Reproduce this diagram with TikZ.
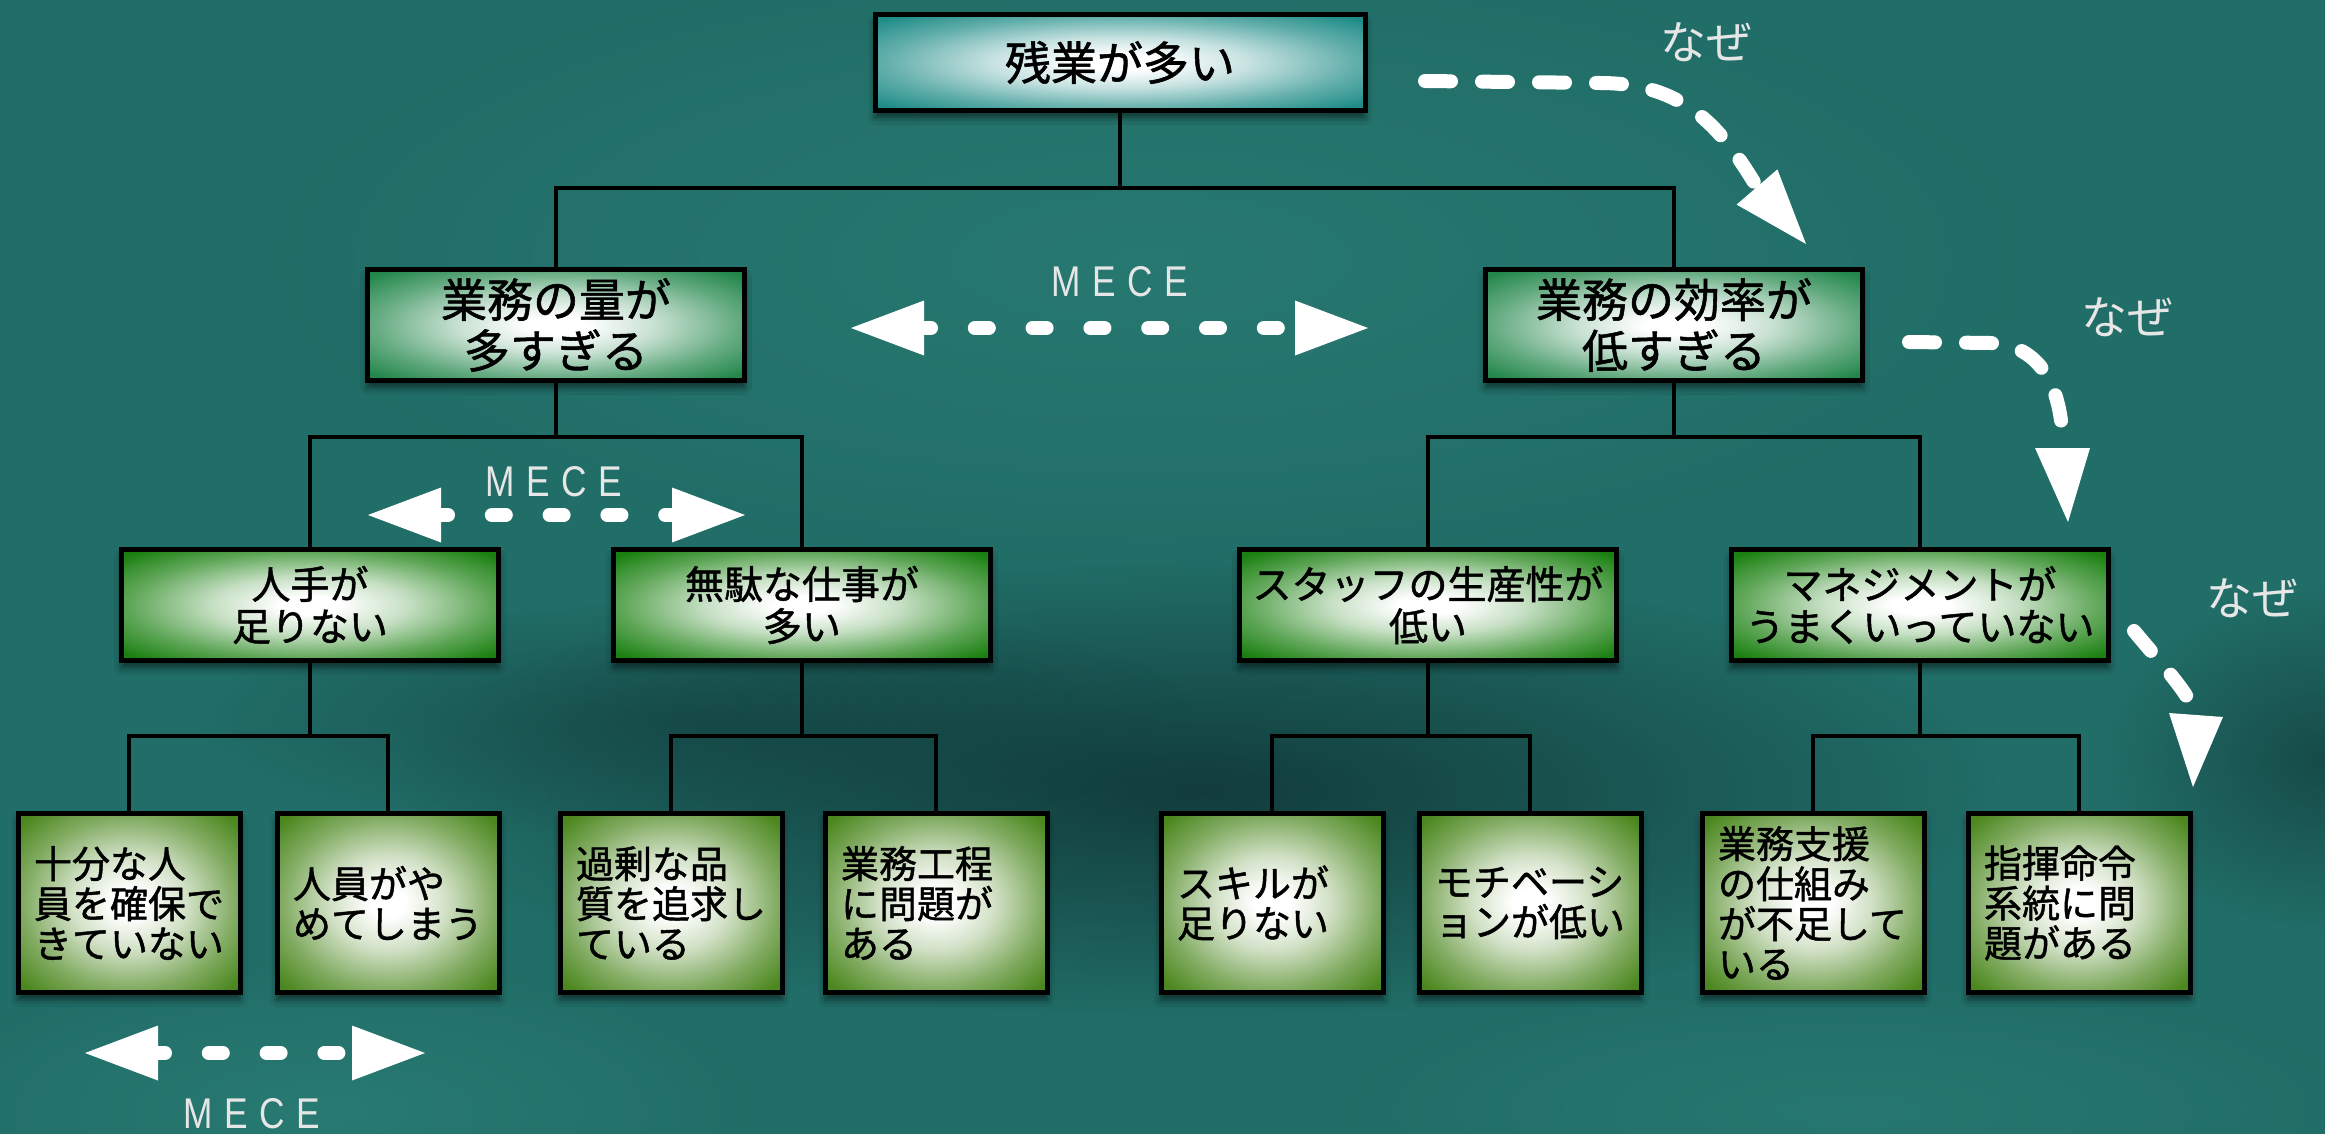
\documentclass[tikz,border=0pt]{standalone}
\usepackage{fontspec}
\setmainfont{Liberation Sans}
\newfontfamily\jp[FakeBold=1.2]{Noto Sans CJK JP}
\newfontfamily\jplight{Noto Sans CJK JP}
\usetikzlibrary{shadows.blur,fadings,calc}

\definecolor{bgbase}{HTML}{216D67}
\definecolor{bgdark}{HTML}{0F3434}
\definecolor{bglight}{HTML}{2B8077}
\definecolor{cT}{HTML}{1F8C87}
\definecolor{cA}{HTML}{23874B}
\definecolor{cB}{HTML}{1A8010}
\definecolor{cC}{HTML}{4B871E}
\definecolor{labelgray}{HTML}{E6E6E6}

\pgfdeclareradialshading{shT}{\pgfpoint{0bp}{0bp}}{color(0bp)=(white); color(4bp)=(white); color(13bp)=(cT!25!white); color(24bp)=(cT!70!white); color(33bp)=(cT); color(50bp)=(cT)}
\pgfdeclareradialshading{shA}{\pgfpoint{0bp}{0bp}}{color(0bp)=(white); color(4bp)=(white); color(13bp)=(cA!25!white); color(24bp)=(cA!70!white); color(33bp)=(cA); color(50bp)=(cA)}
\pgfdeclareradialshading{shB}{\pgfpoint{0bp}{0bp}}{color(0bp)=(white); color(4bp)=(white); color(13bp)=(cB!25!white); color(24bp)=(cB!70!white); color(33bp)=(cB); color(50bp)=(cB)}
\pgfdeclareradialshading{shC}{\pgfpoint{0bp}{0bp}}{color(0bp)=(white); color(4bp)=(white); color(13bp)=(cC!25!white); color(24bp)=(cC!70!white); color(33bp)=(cC); color(50bp)=(cC)}

\tikzfading[name=blobfade, inner color=transparent!0, outer color=transparent!100]

\tikzset{
  box/.style={draw=black, line width=5pt, inner sep=0pt, shade,
    minimum width=377pt, minimum height=111pt,
    blur shadow={shadow xshift=0pt, shadow yshift=-7pt, shadow blur radius=7pt, shadow opacity=55}},
  topbox/.style={box, shading=shT, minimum width=490pt, minimum height=96pt,
    font=\jp\fontsize{46}{51}\selectfont},
  lonebox/.style={box, shading=shA, align=center, font=\jp\fontsize{46}{51}\selectfont},
  ltwobox/.style={box, shading=shB, align=center, font=\jp\fontsize{39}{42}\selectfont},
  lthreebox/.style={box, shading=shC, minimum width=222pt, minimum height=179pt,
    text width=190pt, align=left, font=\jp\fontsize{38}{40}\selectfont},
  link/.style={draw=black, line width=3.5pt},
  dotline/.style={draw=white, line width=14pt, line cap=round, dash pattern=on 14pt off 43.8pt},
  whyline/.style={draw=white, line width=14pt, line cap=round, dash pattern=on 26pt off 31pt},
  headfill/.style={fill=white},
  mecelabel/.style={text=labelgray, font=\fontsize{43}{43}\selectfont, inner sep=0pt},
  whylabel/.style={text=labelgray, font=\jplight\fontsize{46}{46}\selectfont, inner sep=0pt},
}

\newcommand{\mecetext}{\scalebox{0.82}[1]{M\kern14pt E\kern14pt C\kern14pt E}}

\begin{document}
\begin{tikzpicture}[x=1pt,y=-1pt]
\useasboundingbox (0,0) rectangle (2325,1134);
% background
\fill[bgbase] (0,0) rectangle (2325,1134);
\begin{scope}
\clip (0,0) rectangle (2325,1134);
\fill[bglight, path fading=blobfade, fill opacity=0.6] (1150,260) ellipse (950 and 330);
\fill[bgdark, path fading=blobfade, fill opacity=0.85] (1200,790) ellipse (800 and 230);
\fill[bgdark, path fading=blobfade, fill opacity=0.6] (2325,760) ellipse (220 and 170);
\fill[bgdark, path fading=blobfade, fill opacity=0.5] (700,720) ellipse (500 and 120);
\fill[bglight, path fading=blobfade, fill opacity=0.7] (330,1110) ellipse (450 and 160);
\fill[bglight, path fading=blobfade, fill opacity=0.55] (1850,1110) ellipse (550 and 140);
\end{scope}

\coordinate (busA) at (1120,188);
\coordinate (busB) at (0,437);
\coordinate (busC) at (0,736);

% boxes
\node[topbox] (top) at (1120,62.5) {残業が多い};

\node[lonebox] (qa) at (556,325) {業務の量が\\多すぎる};
\node[lonebox] (qb) at (1674,325) {業務の効率が\\低すぎる};

\node[ltwobox] (ra) at (310,605) {人手が\\足りない};
\node[ltwobox] (rb) at (802,605) {無駄な仕事が\\多い};
\node[ltwobox] (rc) at (1428,605) {スタッフの生産性が\\低い};
\node[ltwobox] (rd) at (1920,605) {マネジメントが\\うまくいっていない};

\node[lthreebox] (s1) at (129,903) {十分な人\\員を確保で\\きていない};
\node[lthreebox] (s2) at (388,903) {人員がや\\めてしまう};
\node[lthreebox] (s3) at (671,903) {過剰な品\\質を追求し\\ている};
\node[lthreebox] (s4) at (936,903) {業務工程\\に問題が\\ある};
\node[lthreebox] (s5) at (1272,903) {スキルが\\足りない};
\node[lthreebox] (s6) at (1530,903) {モチベーシ\\ョンが低い};
\node[lthreebox] (s7) at (1813,903) {業務支援\\の仕組み\\が不足して\\いる};
\node[lthreebox] (s8) at (2079,903) {指揮命令\\系統に問\\題がある};

% tree links
\draw[link] (top.south) -- (top.south |- busA) -| (qa.north);
\draw[link] (top.south |- busA) -| (qb.north);

\draw[link] (qa.south) -- (qa.south |- busB) -| (ra.north);
\draw[link] (qa.south |- busB) -| (rb.north);
\draw[link] (qb.south) -- (qb.south |- busB) -| (rc.north);
\draw[link] (qb.south |- busB) -| (rd.north);

\draw[link] (ra.south) -- (ra.south |- busC) -| (s1.north);
\draw[link] (ra.south |- busC) -| (s2.north);
\draw[link] (rb.south) -- (rb.south |- busC) -| (s3.north);
\draw[link] (rb.south |- busC) -| (s4.north);
\draw[link] (rc.south) -- (rc.south |- busC) -| (s5.north);
\draw[link] (rc.south |- busC) -| (s6.north);
\draw[link] (rd.south) -- (rd.south |- busC) -| (s7.north);
\draw[link] (rd.south |- busC) -| (s8.north);

% MECE arrows
\coordinate (m1a) at (851,328); \coordinate (m1b) at (1368,328);
\draw[dotline] ($(m1a)+(66,0)$) -- ($(m1b)+(-66,0)$);
\fill[headfill] (m1a) -- ++(73,-27.5) -- ++(0,55) -- cycle;
\fill[headfill] (m1b) -- ++(-73,-27.5) -- ++(0,55) -- cycle;
\node[mecelabel] (mece1) at (1120,282) {\mecetext};

\coordinate (m2a) at (368,515); \coordinate (m2b) at (745,515);
\draw[dotline] ($(m2a)+(66,0)$) -- ($(m2b)+(-66,0)$);
\fill[headfill] (m2a) -- ++(73,-27.5) -- ++(0,55) -- cycle;
\fill[headfill] (m2b) -- ++(-73,-27.5) -- ++(0,55) -- cycle;
\node[mecelabel] (mece2) at (554,482) {\mecetext};

\coordinate (m3a) at (85,1053); \coordinate (m3b) at (425,1053);
\draw[dotline] ($(m3a)+(66,0)$) -- ($(m3b)+(-66,0)$);
\fill[headfill] (m3a) -- ++(73,-27.5) -- ++(0,55) -- cycle;
\fill[headfill] (m3b) -- ++(-73,-27.5) -- ++(0,55) -- cycle;
\node[mecelabel] (mece3) at (252,1114) {\mecetext};

% "naze" arrows
\coordinate (w1s) at (1425,81); \coordinate (w1e) at (1757,187);
\draw[whyline] (w1s) -- (1600,83) .. controls (1690,83) and (1725,135) .. (w1e);
\fill[headfill] (1806,244) -- (1736.6,204.6) -- (1777.4,169.4) -- cycle;
\node[whylabel] (why1) at (1706,42) {なぜ};

\coordinate (w2s) at (1909,342); \coordinate (w2e) at (2063,448);
\draw[whyline] (w2s) -- (1990,343) .. controls (2040,345) and (2062,385) .. (w2e);
\fill[headfill] (2035,448) -- (2090,448) -- (2068,522) -- cycle;
\node[whylabel] (why2) at (2127,317) {なぜ};

\coordinate (w3s) at (2134,631); \coordinate (w3e) at (2196,715);
\draw[whyline] (w3s) .. controls (2165,668) and (2190,695) .. (w3e);
\fill[headfill] (2169,713) -- (2223,717) -- (2193,787) -- cycle;
\node[whylabel] (why3) at (2252,598) {なぜ};
\end{tikzpicture}
\end{document}
